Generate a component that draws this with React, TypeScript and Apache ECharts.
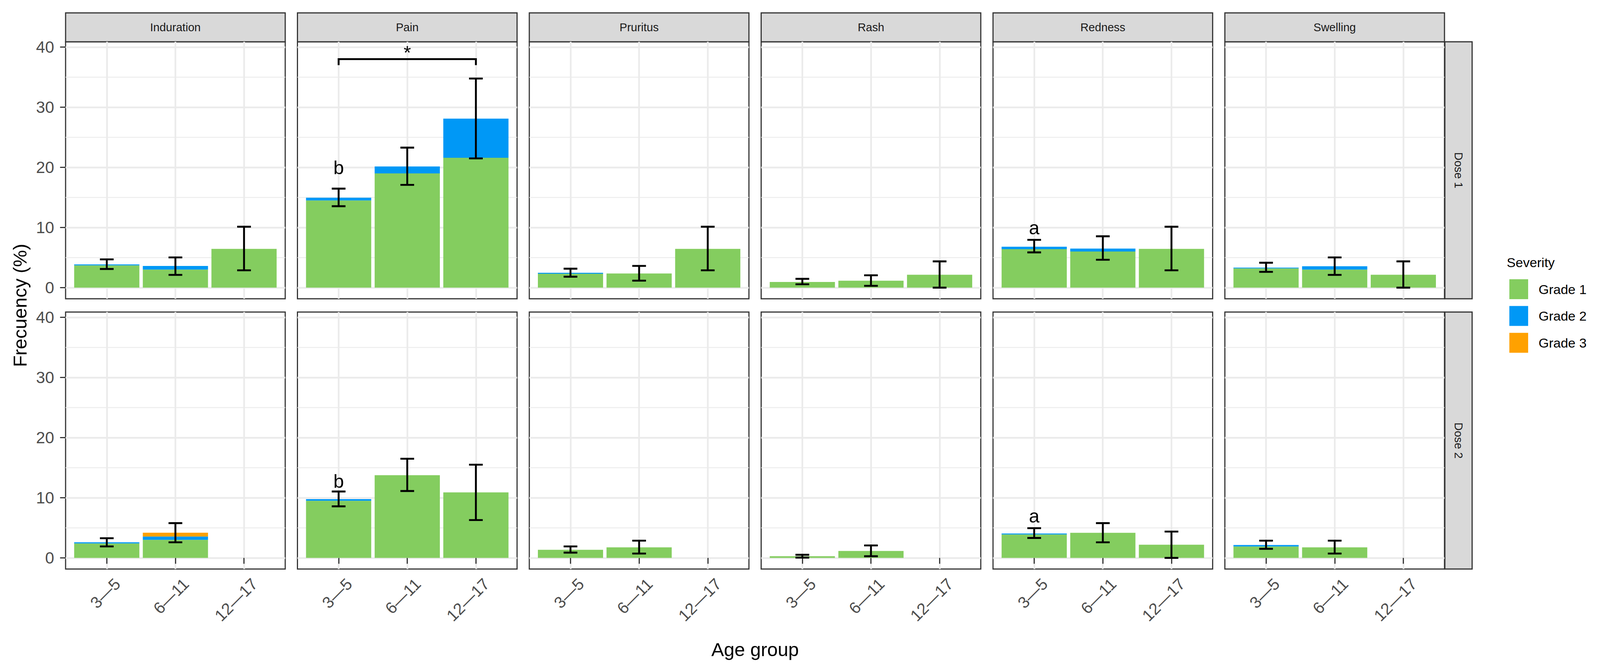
import React, { useEffect, useRef } from 'react';
import * as echarts from 'echarts';

const FONT = 'Liberation Sans, Arial, Helvetica, sans-serif';

const SYMPTOMS = ['Induration', 'Pain', 'Pruritus', 'Rash', 'Redness', 'Swelling'];
const DOSES = ['Dose 1', 'Dose 2'];
const AGE_GROUPS = ['3\u20145', '6\u201411', '12\u201417'];
const GRADES = ['Grade 1', 'Grade 2', 'Grade 3'];
const GRADE_COLORS = ['#84CD5F', '#0098F6', '#FFA100'];
const Y_MAJOR_TICKS = [0, 10, 20, 30, 40];
const Y_MINOR_TICKS = [5, 15, 25, 35];

// Dose 1, rows = symptoms, columns = age groups
const D1_GRADE1 = [
  [3.7, 3.0, 6.45],
  [14.5, 19.0, 21.6],
  [2.3, 2.35, 6.45],
  [0.95, 1.15, 2.15],
  [6.4, 6.0, 6.45],
  [3.2, 3.0, 2.15],
];
const D1_GRADE2 = [
  [0.17, 0.6, 0],
  [0.45, 1.15, 6.5],
  [0.17, 0, 0],
  [0, 0, 0],
  [0.4, 0.5, 0],
  [0.13, 0.56, 0],
];
const D1_GRADE3 = [
  [0, 0, 0],
  [0, 0, 0],
  [0, 0, 0],
  [0, 0, 0],
  [0, 0, 0],
  [0, 0, 0],
];
const D1_LOWER = [
  [3.1, 2.12, 2.88],
  [13.54, 17.09, 21.49],
  [1.82, 1.16, 2.88],
  [0.56, 0.3, 0],
  [5.86, 4.64, 2.88],
  [2.62, 2.12, 0],
];
const D1_UPPER = [
  [4.7, 5.03, 10.13],
  [16.46, 23.28, 34.77],
  [3.15, 3.61, 10.13],
  [1.46, 2.05, 4.37],
  [7.95, 8.54, 10.13],
  [4.14, 5.03, 4.37],
];

// Dose 2
const D2_GRADE1 = [
  [2.4, 3.0, null],
  [9.5, 13.75, 10.9],
  [1.35, 1.75, null],
  [0.28, 1.16, null],
  [3.9, 4.18, 2.19],
  [1.9, 1.75, null],
];
const D2_GRADE2 = [
  [0.2, 0.56, null],
  [0.28, 0, 0],
  [0, 0, null],
  [0, 0, null],
  [0.16, 0, 0],
  [0.24, 0, null],
];
const D2_GRADE3 = [
  [0, 0.63, null],
  [0, 0, 0],
  [0, 0, null],
  [0, 0, null],
  [0, 0, 0],
  [0, 0, null],
];
const D2_LOWER = [
  [1.91, 2.59, null],
  [8.57, 11.12, 6.29],
  [0.88, 0.72, null],
  [0.05, 0.28, null],
  [3.31, 2.59, 0],
  [1.51, 0.72, null],
];
const D2_UPPER = [
  [3.27, 5.78, null],
  [11.04, 16.49, 15.5],
  [1.91, 2.87, null],
  [0.52, 2.07, null],
  [4.94, 5.78, 4.38],
  [2.87, 2.87, null],
];

const LETTER_LABELS = [
  { dose: 0, symptom: 1, age: 0, text: 'b', y: 20.0 },
  { dose: 1, symptom: 1, age: 0, text: 'b', y: 12.75 },
  { dose: 0, symptom: 4, age: 0, text: 'a', y: 10.0 },
  { dose: 1, symptom: 4, age: 0, text: 'a', y: 7.0 },
];
const BRACKETS = [
  { dose: 0, symptom: 1, from: 0, to: 2, y: 38, tipY: 37, text: '*', textY: 39.1 },
];

const GRADE_DATA = [
  [D1_GRADE1, D1_GRADE2, D1_GRADE3],
  [D2_GRADE1, D2_GRADE2, D2_GRADE3],
];
const LOWER_DATA = [D1_LOWER, D2_LOWER];
const UPPER_DATA = [D1_UPPER, D2_UPPER];

// layout (reference pixels; scaled to the real viewport at run time)
const W = 4342;
const H = 1713;
const PANEL_LEFT0 = 178;
const PANEL_PITCH = 629.2;
const PANEL_W = 596;
const PANEL_H = 658;
const ROW_TOPS = [107, 799];
const STRIP_TOP = 33;
const STRIP_RIGHT_X = 3921;
const STRIP_RIGHT_W = 74;
const X_MIN = 0.4;
const X_MAX = 3.6;
const Y_MIN = -1.85;
const Y_MAX = 40.88;
const ERR_W = 0.2;
const LABEL_SHIFT = 0.155;
const GRID_COLOR = '#ebebeb';

function buildOption(Sx: number, Sy: number) {
  const kx = (v: number) => v * Sx;
  const ky = (v: number) => v * Sy;
  const Sf = Math.sqrt(Sx * Sy);
  const kf = (v: number) => v * Sf;
  const LINE_W = kf(5);
  const grids: any[] = [];
  const xAxes: any[] = [];
  const yAxes: any[] = [];
  const series: any[] = [];
  const graphics: any[] = [];
  const ppu = PANEL_W / (X_MAX - X_MIN);

  DOSES.forEach((dose, r) => {
    SYMPTOMS.forEach((sym, c) => {
      const fi = (r * SYMPTOMS.length + c) * 2; // frame grid index
      const bi = fi + 1; // bar grid index
      const left = PANEL_LEFT0 + c * PANEL_PITCH;
      grids.push({
        left: kx(left),
        top: ky(ROW_TOPS[r]),
        width: kx(PANEL_W),
        height: ky(PANEL_H),
        show: true,
        backgroundColor: '#ffffff',
        borderColor: '#333333',
        borderWidth: kf(3),
        containLabel: false,
        outerBoundsMode: 'none',
      });
      // bar grid: category bands of one unit each, centred at 1, 2, 3
      grids.push({
        left: kx(left + (0.5 - X_MIN) * ppu),
        top: ky(ROW_TOPS[r]),
        width: kx(AGE_GROUPS.length * ppu),
        height: ky(PANEL_H),
        show: false,
        containLabel: false,
        outerBoundsMode: 'none',
      });
      const bottomRow = r === DOSES.length - 1;
      const leftCol = c === 0;
      xAxes.push({
        type: 'value',
        gridIndex: fi,
        min: X_MIN,
        max: X_MAX,
        axisLine: { show: false },
        axisTick: {
          show: bottomRow,
          customValues: AGE_GROUPS.map((_, i) => i + 1),
          length: ky(15),
          lineStyle: { color: '#333333', width: kf(3) },
        },
        axisLabel: {
          show: bottomRow,
          customValues: AGE_GROUPS.map((_, i) => i + 1 + LABEL_SHIFT),
          formatter: (v: number) => AGE_GROUPS[Math.round(v - LABEL_SHIFT) - 1] ?? '',
          rotate: 45,
          margin: ky(31),
          fontSize: kf(43),
          color: '#4d4d4d',
          fontFamily: FONT,
        },
        splitLine: { show: true, lineStyle: { color: GRID_COLOR, width: kf(4.5) } },
      });
      xAxes.push({
        type: 'category',
        gridIndex: bi,
        data: AGE_GROUPS,
        boundaryGap: true,
        show: false,
      });
      yAxes.push({
        type: 'value',
        gridIndex: fi,
        min: Y_MIN,
        max: Y_MAX,
        axisLine: { show: false },
        axisTick: {
          show: leftCol,
          customValues: Y_MAJOR_TICKS,
          length: kx(15),
          lineStyle: { color: '#333333', width: kf(3) },
        },
        axisLabel: {
          show: leftCol,
          customValues: Y_MAJOR_TICKS,
          margin: kx(31),
          fontSize: kf(43),
          color: '#4d4d4d',
          fontFamily: FONT,
        },
        splitLine: { show: true, lineStyle: { color: GRID_COLOR, width: kf(4.5) } },
      });
      yAxes.push({
        type: 'value',
        gridIndex: bi,
        min: Y_MIN,
        max: Y_MAX,
        show: false,
        splitLine: { show: false },
      });

      // minor horizontal grid lines
      series.push({
        type: 'custom',
        xAxisIndex: fi,
        yAxisIndex: fi,
        z: 1,
        silent: true,
        encode: { x: 0, y: 1 },
        data: Y_MINOR_TICKS.map((v) => [X_MIN, v]),
        renderItem: (params: any, api: any) => {
          const v = api.value(1);
          const p1 = api.coord([X_MIN, v]);
          const p2 = api.coord([X_MAX, v]);
          return {
            type: 'line',
            shape: { x1: p1[0], y1: p1[1], x2: p2[0], y2: p2[1] },
            style: { stroke: GRID_COLOR, lineWidth: kf(2.3) },
          };
        },
      });

      // stacked bars
      GRADES.forEach((g, gk) => {
        series.push({
          type: 'bar',
          name: g,
          xAxisIndex: bi,
          yAxisIndex: bi,
          stack: 'stack' + bi,
          barWidth: '95%',
          z: 2,
          silent: true,
          itemStyle: { color: GRADE_COLORS[gk] },
          data: GRADE_DATA[r][gk][c],
        });
      });

      // error bars
      const lo = LOWER_DATA[r][c];
      const hi = UPPER_DATA[r][c];
      const errData: any[] = [];
      lo.forEach((l, i) => {
        if (l !== null && hi[i] !== null) errData.push([i + 1, l, hi[i]]);
      });
      series.push({
        type: 'custom',
        xAxisIndex: fi,
        yAxisIndex: fi,
        z: 4,
        silent: true,
        encode: { x: 0, y: [1, 2] },
        data: errData,
        renderItem: (params: any, api: any) => {
          const x = api.value(0);
          const pLo = api.coord([x, api.value(1)]);
          const pHi = api.coord([x, api.value(2)]);
          const hw = api.size([ERR_W / 2, 0])[0];
          const st = { stroke: '#000', lineWidth: LINE_W };
          return {
            type: 'group',
            children: [
              { type: 'line', shape: { x1: pLo[0], y1: pHi[1], x2: pLo[0], y2: pLo[1] }, style: st },
              { type: 'line', shape: { x1: pLo[0] - hw, y1: pHi[1], x2: pLo[0] + hw, y2: pHi[1] }, style: st },
              { type: 'line', shape: { x1: pLo[0] - hw, y1: pLo[1], x2: pLo[0] + hw, y2: pLo[1] }, style: st },
            ],
          };
        },
      });

      // letter labels + bracket texts
      const texts: any[] = [];
      LETTER_LABELS.filter((l) => l.dose === r && l.symptom === c).forEach((l) =>
        texts.push({ x: l.age + 1, y: l.y, text: l.text })
      );
      const brs = BRACKETS.filter((b) => b.dose === r && b.symptom === c);
      brs.forEach((b) => texts.push({ x: (b.from + b.to) / 2 + 1, y: b.textY, text: b.text }));
      if (texts.length) {
        series.push({
          type: 'custom',
          xAxisIndex: fi,
          yAxisIndex: fi,
          z: 5,
          silent: true,
          encode: { x: 0, y: 1 },
          data: texts.map((t) => [t.x, t.y]),
          renderItem: (params: any, api: any) => {
            const p = api.coord([api.value(0), api.value(1)]);
            return {
              type: 'text',
              x: p[0],
              y: p[1],
              style: {
                text: texts[params.dataIndex].text,
                fontSize: kf(50),
                fontFamily: FONT,
                fill: '#000',
                align: 'center',
                verticalAlign: 'middle',
                textAlign: 'center',
                textVerticalAlign: 'middle',
              },
            };
          },
        });
      }
      if (brs.length) {
        series.push({
          type: 'custom',
          xAxisIndex: fi,
          yAxisIndex: fi,
          z: 5,
          silent: true,
          encode: { x: [0, 1], y: [2, 3] },
          data: brs.map((b) => [b.from + 1, b.to + 1, b.y, b.tipY]),
          renderItem: (params: any, api: any) => {
            const a = api.value(0);
            const b = api.value(1);
            const yv = api.value(2);
            const tv = api.value(3);
            const pts = [
              api.coord([a, tv]),
              api.coord([a, yv]),
              api.coord([b, yv]),
              api.coord([b, tv]),
            ];
            return {
              type: 'polyline',
              shape: { points: pts },
              style: { stroke: '#000', lineWidth: LINE_W, fill: null },
            };
          },
        });
      }
    });
  });

  const textStyle = (size: number, fill: string, align = 'center') => ({
    fontSize: kf(size),
    fontFamily: FONT,
    fill,
    align,
    verticalAlign: 'middle',
    textAlign: align,
    textVerticalAlign: 'middle',
  });

  // top strips
  SYMPTOMS.forEach((sym, c) => {
    const left = PANEL_LEFT0 + c * PANEL_PITCH;
    graphics.push({
      type: 'rect',
      shape: { x: kx(left), y: ky(STRIP_TOP), width: kx(PANEL_W), height: ky(ROW_TOPS[0] - STRIP_TOP) },
      style: { fill: '#d9d9d9', stroke: '#333333', lineWidth: kf(3) },
    });
    graphics.push({
      type: 'text',
      x: kx(left + PANEL_W / 2),
      y: ky((STRIP_TOP + ROW_TOPS[0]) / 2),
      style: { text: sym, ...textStyle(30, '#1a1a1a') },
    });
  });
  // right strips
  DOSES.forEach((d, r) => {
    graphics.push({
      type: 'rect',
      shape: { x: kx(STRIP_RIGHT_X), y: ky(ROW_TOPS[r]), width: kx(STRIP_RIGHT_W), height: ky(PANEL_H) },
      style: { fill: '#d9d9d9', stroke: '#333333', lineWidth: kf(3) },
    });
    graphics.push({
      type: 'text',
      x: kx(STRIP_RIGHT_X + STRIP_RIGHT_W / 2),
      y: ky(ROW_TOPS[r] + PANEL_H / 2),
      rotation: -Math.PI / 2,
      style: { text: d, ...textStyle(30, '#1a1a1a') },
    });
  });
  // axis titles
  graphics.push({
    type: 'text',
    x: kx(54),
    y: ky((ROW_TOPS[0] + ROW_TOPS[1] + PANEL_H) / 2),
    rotation: Math.PI / 2,
    style: { text: 'Frecuency (%)', ...textStyle(50, '#000') },
  });
  graphics.push({
    type: 'text',
    x: kx((PANEL_LEFT0 + PANEL_LEFT0 + 5 * PANEL_PITCH + PANEL_W) / 2),
    y: ky(1663),
    style: { text: 'Age group', ...textStyle(50, '#000') },
  });
  // legend title
  graphics.push({
    type: 'text',
    x: kx(4089),
    y: ky(672),
    style: { text: 'Severity', ...textStyle(35, '#000', 'left') },
  });

  return {
    animation: false,
    backgroundColor: '#ffffff',
    textStyle: { fontFamily: FONT },
    grid: grids,
    xAxis: xAxes,
    yAxis: yAxes,
    series,
    graphic: { elements: graphics },
    legend: {
      data: GRADES,
      orient: 'vertical',
      left: kx(4096),
      top: ky(715),
      padding: 0,
      itemWidth: kx(51),
      itemHeight: ky(51),
      itemGap: ky(17.6),
      icon: 'rect',
      selectedMode: false,
      textStyle: { fontSize: kf(35), color: '#000', fontFamily: FONT, padding: [0, 0, 0, kx(23)] },
    },
  };
}

export default function App() {
  const ref = useRef<HTMLDivElement>(null);
  useEffect(() => {
    const el = ref.current;
    if (!el) return;
    const vw = el.clientWidth || window.innerWidth || W;
    const vh = el.clientHeight || window.innerHeight || H;
    const chart = echarts.init(el, null, { renderer: 'svg' });
    chart.setOption(buildOption(vw / W, vh / H) as any);
    return () => chart.dispose();
  }, []);
  return (
    <div
      ref={ref}
      style={{ position: 'fixed', left: 0, top: 0, width: '100vw', height: '100vh', background: '#fff' }}
    />
  );
}
